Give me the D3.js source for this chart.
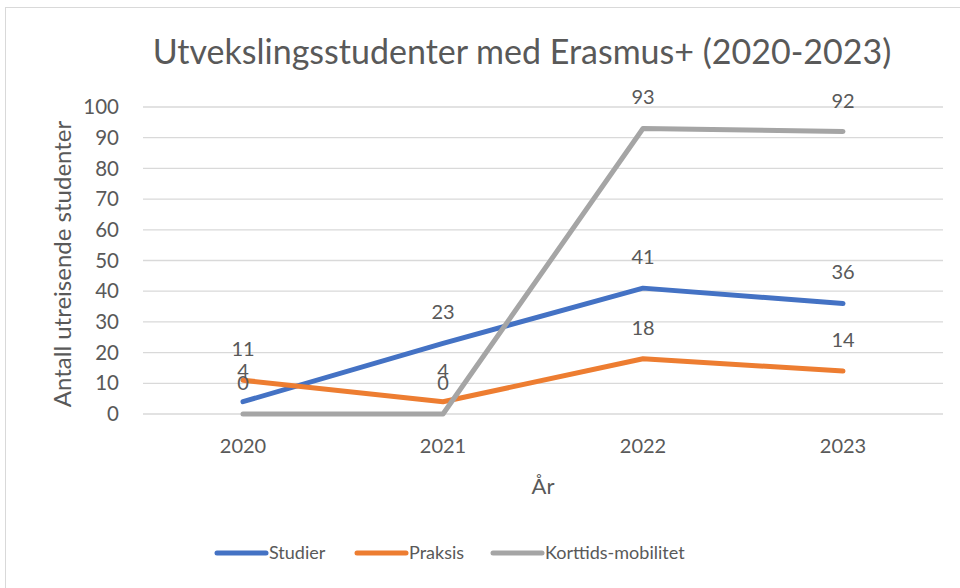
<!DOCTYPE html>
<html>
<head>
<meta charset="utf-8">
<script src="https://cdn.jsdelivr.net/npm/d3@7"></script>
<style>
  body { margin: 0; background: #fff; }
  text { font-family: Lato, "Open Sans", sans-serif; fill: #595959; }
</style>
</head>
<body>
<svg id="chart" width="960" height="588"></svg>
<script>
const years = ["2020", "2021", "2022", "2023"];
const studier = [4, 23, 41, 36];
const praksis = [11, 4, 18, 14];
const korttids = [0, 0, 93, 92];
const yTicks = [0, 10, 20, 30, 40, 50, 60, 70, 80, 90, 100];

const series = [
  { name: "Studier", values: studier, color: "#4472C4" },
  { name: "Praksis", values: praksis, color: "#ED7D31" },
  { name: "Korttids-mobilitet", values: korttids, color: "#A5A5A5" }
];

let svg = d3.select("#chart");

// chart border
svg.append("rect")
  .attr("x", 5.5).attr("y", 7.5)
  .attr("width", 980).attr("height", 600)
  .attr("fill", "none")
  .attr("stroke", "#d9d9d9");

let x = d3.scaleBand().domain(years).range([143, 943]);
let y = d3.scaleLinear().domain([0, 100]).range([414, 107]);

// grid
svg.append("g")
  .selectAll("line")
  .data(yTicks)
  .enter()
  .append("line")
  .attr("x1", 143).attr("x2", 943)
  .attr("y1", (d) => y(d)).attr("y2", (d) => y(d))
  .attr("stroke", "#d9d9d9")
  .attr("stroke-width", 1.3);

// y tick labels
svg.append("g")
  .selectAll("text")
  .data(yTicks)
  .enter()
  .append("text")
  .text((d) => d)
  .attr("x", 119)
  .attr("y", (d) => y(d))
  .attr("dy", "0.35em")
  .attr("text-anchor", "end")
  .attr("font-size", 20.5);

// x tick labels
svg.append("g")
  .selectAll("text")
  .data(years)
  .enter()
  .append("text")
  .text((d) => d)
  .attr("x", (d) => x(d) + x.bandwidth() / 2)
  .attr("y", 446)
  .attr("dy", "0.35em")
  .attr("text-anchor", "middle")
  .attr("font-size", 20);

// titles
svg.append("text")
  .text("Utvekslingsstudenter med Erasmus+ (2020-2023)")
  .attr("x", 522).attr("y", 52)
  .attr("dy", "0.35em")
  .attr("text-anchor", "middle")
  .attr("font-size", 34);

svg.append("text")
  .text("År")
  .attr("x", 543).attr("y", 486)
  .attr("dy", "0.35em")
  .attr("text-anchor", "middle")
  .attr("font-size", 22);

svg.append("text")
  .text("Antall utreisende studenter")
  .attr("transform", "translate(63, 264) rotate(-90)")
  .attr("dy", "0.35em")
  .attr("text-anchor", "middle")
  .attr("font-size", 24);

// lines
let line = d3.line()
  .x((d, i) => x(years[i]) + x.bandwidth() / 2)
  .y((d) => y(d));

svg.append("g")
  .selectAll("path")
  .data(series)
  .enter()
  .append("path")
  .attr("d", (d) => line(d.values))
  .attr("fill", "none")
  .attr("stroke", (d) => d.color)
  .attr("stroke-width", 5)
  .attr("stroke-linecap", "round")
  .attr("stroke-linejoin", "round");

// data labels
series.forEach((s) => {
  svg.append("g")
    .selectAll("text")
    .data(s.values)
    .enter()
    .append("text")
    .text((d) => d)
    .attr("x", (d, i) => x(years[i]) + x.bandwidth() / 2)
    .attr("y", (d) => y(d) - 31)
    .attr("dy", "0.35em")
    .attr("text-anchor", "middle")
    .attr("font-size", 20)
    .attr("fill", "#404040");
});

// legend
let legendX = [217, 357, 493];
let legend = svg.append("g")
  .selectAll("g")
  .data(series)
  .enter()
  .append("g")
  .attr("transform", (d, i) => `translate(${legendX[i]}, 553)`);

legend.append("line")
  .attr("x1", 0).attr("x2", 49)
  .attr("stroke", (d) => d.color)
  .attr("stroke-width", 5)
  .attr("stroke-linecap", "round");

legend.append("text")
  .text((d) => d.name)
  .attr("x", 52)
  .attr("dy", "0.35em")
  .attr("font-size", 18);
</script>
</body>
</html>
